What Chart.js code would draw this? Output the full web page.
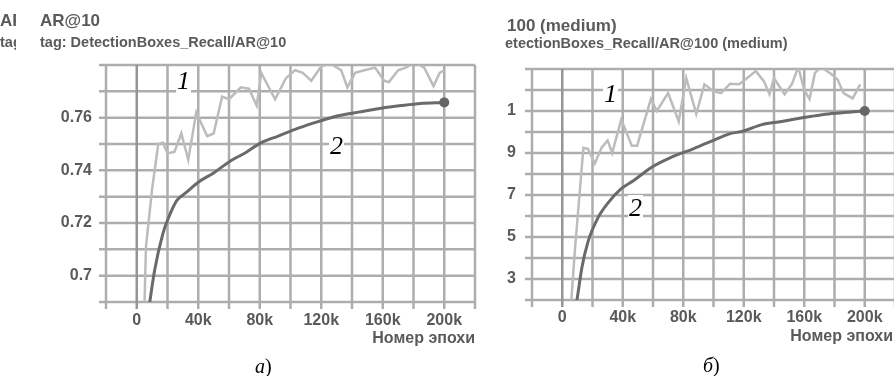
<!DOCTYPE html>
<html>
<head>
<meta charset="utf-8">
<script src="https://cdn.jsdelivr.net/npm/chart.js@4"></script>
<style>
  html, body { margin: 0; padding: 0; background: #fff; }
  body { width: 894px; height: 376px; position: relative; overflow: hidden;
         font-family: "Liberation Sans", Arial, sans-serif; color: #5a5a5a; }
  .txt { position: absolute; white-space: nowrap; line-height: 1; }
  .title { font-size: 17px; font-weight: bold; }
  .tag { font-size: 14.5px; font-weight: bold; }
  .axis { font-size: 16px; font-weight: bold; }
  .clip { position: absolute; overflow: hidden; }
  .num { position: absolute; font-family: "Liberation Serif", serif; font-style: italic;
         font-size: 26px; line-height: 1; color: #000; background: #fff; padding: 0 1px; z-index: 2; }
  .cap { position: absolute; font-family: "Liberation Serif", serif; font-size: 20px;
         line-height: 1; color: #000; }
  canvas { position: absolute; top: 0; }
</style>
</head>
<body>
<canvas id="chartA" width="480" height="376" style="left:0"></canvas>
<canvas id="chartB" width="420" height="376" style="left:480px"></canvas>

<!-- titles -->
<div class="clip" style="left:0;top:0;width:16px;height:56px">
  <div class="txt title" style="left:0;top:12px">AR@10</div>
  <div class="txt tag" style="left:0;top:35px">tag: DetectionBoxes_Recall/AR@10</div>
</div>
<div class="txt title" style="left:40px;top:12px">AR@10</div>
<div class="txt tag" style="left:40px;top:35px">tag: DetectionBoxes_Recall/AR@10</div>
<div class="txt title" style="left:507px;top:17px">100 (medium)</div>
<div class="txt tag" style="left:505px;top:36px">etectionBoxes_Recall/AR@100 (medium)</div>

<!-- axis titles -->
<div class="txt axis" style="right:419px;top:330px">Номер эпохи</div>
<div class="txt axis" style="right:1px;top:328px">Номер эпохи</div>

<!-- curve numbers -->
<span class="num" style="left:176px;top:68px">1</span>
<span class="num" style="left:329px;top:133px">2</span>
<span class="num" style="left:603px;top:81px">1</span>
<span class="num" style="left:628px;top:195px">2</span>

<!-- captions -->
<div class="cap" style="left:255px;top:356px"><i>а</i>)</div>
<div class="cap" style="left:703px;top:355px"><i>б</i>)</div>

<script>
// x axis: training steps
const xTickVals = [-20000, 0, 20000, 40000, 60000, 80000, 100000, 120000, 140000, 160000, 180000, 200000, 220000];
const xTickLabels = ['', '0', '', '40k', '', '80k', '', '120k', '', '160k', '', '200k', ''];

// chart a) AR@10
const yTickValsA = [0.69, 0.70, 0.71, 0.72, 0.73, 0.74, 0.75, 0.76, 0.77, 0.78];
const yTickLabelsA = ['', '0.7', '', '0.72', '', '0.74', '', '0.76', '', ''];

const rawStepsA = [2000, 6000, 10000, 14000, 17000, 20000, 24500, 29000, 33500, 38700, 45800, 50000,
  55500, 60000, 67700, 73000, 78000, 81000, 90000, 97000, 103000, 108000, 113500, 120000, 126000,
  133000, 137000, 142000, 148000, 155000, 161000, 164000, 170000, 175000, 181000, 187000, 193000, 197000, 200000];
const rawA = [0.62, 0.711, 0.733, 0.750, 0.7505, 0.7465, 0.747, 0.754, 0.744, 0.762, 0.753, 0.754,
  0.768, 0.767, 0.7715, 0.771, 0.7646, 0.777, 0.767, 0.775, 0.778, 0.777, 0.774, 0.7795, 0.7805,
  0.778, 0.7715, 0.777, 0.778, 0.779, 0.774, 0.7735, 0.778, 0.779, 0.781, 0.779, 0.772, 0.777, 0.778];

const smoothStepsA = [5000, 8000, 11600, 17000, 21000, 26000, 32000, 40000, 50000, 60000, 71000, 81000,
  92000, 105000, 118000, 131000, 145000, 159000, 172000, 184500, 200000];
const smoothA = [0.675, 0.688, 0.702, 0.716, 0.7225, 0.7285, 0.7315, 0.7355, 0.739, 0.7432, 0.7468, 0.7505,
  0.753, 0.756, 0.7585, 0.7607, 0.7622, 0.7636, 0.7646, 0.7654, 0.7658];

// chart б) AR@100 (medium), labels cut off on the left
const yTickValsB = [0.32, 0.33, 0.34, 0.35, 0.36, 0.37, 0.38, 0.39, 0.40, 0.41, 0.42, 0.43];
const yTickLabelsB = ['', '3', '', '5', '', '7', '', '9', '', '1', '', ''];

const rawStepsB = [4000, 8500, 14000, 17000, 21500, 26000, 30000, 33000, 39000, 46000, 49500, 58600,
  62500, 70000, 77000, 82000, 88600, 94000, 99700, 105000, 111000, 117000, 121000, 128000, 133500,
  137000, 140000, 147000, 152000, 156000, 160000, 163500, 167000, 171000, 178000, 182000, 186000, 192000, 197000];
const rawB = [0.30, 0.345, 0.3925, 0.392, 0.385, 0.3925, 0.396, 0.390, 0.406, 0.3935, 0.3935, 0.4157,
  0.41, 0.4185, 0.405, 0.4256, 0.4086, 0.4227, 0.4195, 0.4185, 0.423, 0.4227, 0.425, 0.429, 0.424,
  0.418, 0.4256, 0.418, 0.423, 0.431, 0.42, 0.4157, 0.428, 0.431, 0.4275, 0.425, 0.4185, 0.416, 0.4227];

const smoothStepsB = [5000, 10000, 13000, 17000, 23500, 30000, 39000, 47500, 58600, 71600, 86600, 100000,
  110000, 120000, 132000, 145000, 154000, 165000, 176000, 191000, 200000];
const smoothB = [0.30, 0.3213, 0.3355, 0.3477, 0.359, 0.366, 0.373, 0.377, 0.383, 0.3878, 0.392, 0.396,
  0.399, 0.4005, 0.4035, 0.405, 0.4062, 0.4075, 0.4086, 0.4095, 0.41];

const gridColor = '#adadad';
const zeroColor = '#959595';
const tickLen = 7;

// grid drawn by hand after everything else, slid under the existing pixels
const paperGrid = {
  id: 'paperGrid',
  afterDraw(chart) {
    const ctx = chart.ctx;
    const a = chart.chartArea;
    const xs = chart.scales.x;
    const ys = chart.scales.y;
    const yVals = chart.config.options.gridYVals;
    ctx.save();
    ctx.globalCompositeOperation = 'destination-over';
    const p0 = xs.getPixelForValue(0);
    ctx.lineWidth = 2.5;
    ctx.strokeStyle = zeroColor;
    ctx.beginPath();
    ctx.moveTo(p0, a.top);
    ctx.lineTo(p0, a.bottom + tickLen);
    ctx.stroke();
    ctx.strokeStyle = gridColor;
    ctx.beginPath();
    for (let i = 0; i < yVals.length; i++) {
      const py = ys.getPixelForValue(yVals[i]);
      ctx.moveTo(a.left - tickLen, py);
      ctx.lineTo(a.right, py);
    }
    for (let i = 0; i < xTickVals.length; i++) {
      if (xTickVals[i] === 0) continue;
      const px = xs.getPixelForValue(xTickVals[i]);
      ctx.moveTo(px, a.top);
      ctx.lineTo(px, a.bottom + tickLen);
    }
    ctx.stroke();
    ctx.restore();
  }
};

function toPoints(steps, vals) {
  return steps.map((s, i) => ({ x: s, y: vals[i] }));
}

function makeChart(id, rawSteps, raw, smoothSteps, smooth, yMin, yMax, yVals, yLabels, box) {
  const lastIdx = smoothSteps.length - 1;
  new Chart(document.getElementById(id), {
    type: 'line',
    data: {
      datasets: [
        {
          data: toPoints(rawSteps, raw),
          borderColor: '#bcbcbc',
          borderWidth: 2.5,
          pointRadius: 0,
          tension: 0,
          fill: false,
          clip: 0,
          order: 2
        },
        {
          data: toPoints(smoothSteps, smooth),
          borderColor: '#6a6a6a',
          borderWidth: 3,
          cubicInterpolationMode: 'monotone',
          pointRadius: ctx => ctx.dataIndex === lastIdx ? 5 : 0,
          pointBackgroundColor: '#666',
          pointBorderWidth: 0,
          fill: false,
          clip: 0,
          order: 1
        }
      ]
    },
    plugins: [paperGrid],
    options: {
      responsive: false,
      animation: false,
      events: [],
      gridYVals: yVals,
      layout: { padding: { left: 0, top: box.top, right: box.right, bottom: box.bottom } },
      plugins: {
        legend: { display: false },
        tooltip: { enabled: false }
      },
      scales: {
        x: {
          type: 'linear',
          min: -20000,
          max: 220000,
          afterBuildTicks: scale => { scale.ticks = xTickVals.map(v => ({ value: v })); },
          afterFit: scale => { scale.height = 30; },
          grid: { display: true, drawOnChartArea: false, color: 'rgba(0,0,0,0)', tickLength: tickLen },
          border: { display: false },
          ticks: {
            autoSkip: false,
            maxRotation: 0,
            padding: box.xPad,
            color: '#5a5a5a',
            font: { family: 'Liberation Sans', size: 16, weight: 'bold' },
            callback: (v, i) => xTickLabels[i]
          }
        },
        y: {
          min: yMin,
          max: yMax,
          afterBuildTicks: scale => { scale.ticks = yVals.map(v => ({ value: v })); },
          afterFit: scale => { scale.width = box.left; },
          grid: { display: true, drawOnChartArea: false, color: 'rgba(0,0,0,0)', tickLength: tickLen },
          border: { display: false },
          ticks: {
            autoSkip: false,
            padding: box.yPad,
            color: '#5a5a5a',
            font: { family: 'Liberation Sans', size: 16, weight: 'bold' },
            callback: (v, i) => yLabels[i]
          }
        }
      }
    }
  });
}

makeChart('chartA', rawStepsA, rawA, smoothStepsA, smoothA, 0.69, 0.78, yTickValsA, yTickLabelsA,
  { left: 106, top: 65, right: 2, bottom: 44, xPad: 2, yPad: 7 });
makeChart('chartB', rawStepsB, rawB, smoothStepsB, smoothB, 0.32, 0.43, yTickValsB, yTickLabelsB,
  { left: 52, top: 69, right: 3, bottom: 46, xPad: 1, yPad: 9 });
</script>
</body>
</html>
